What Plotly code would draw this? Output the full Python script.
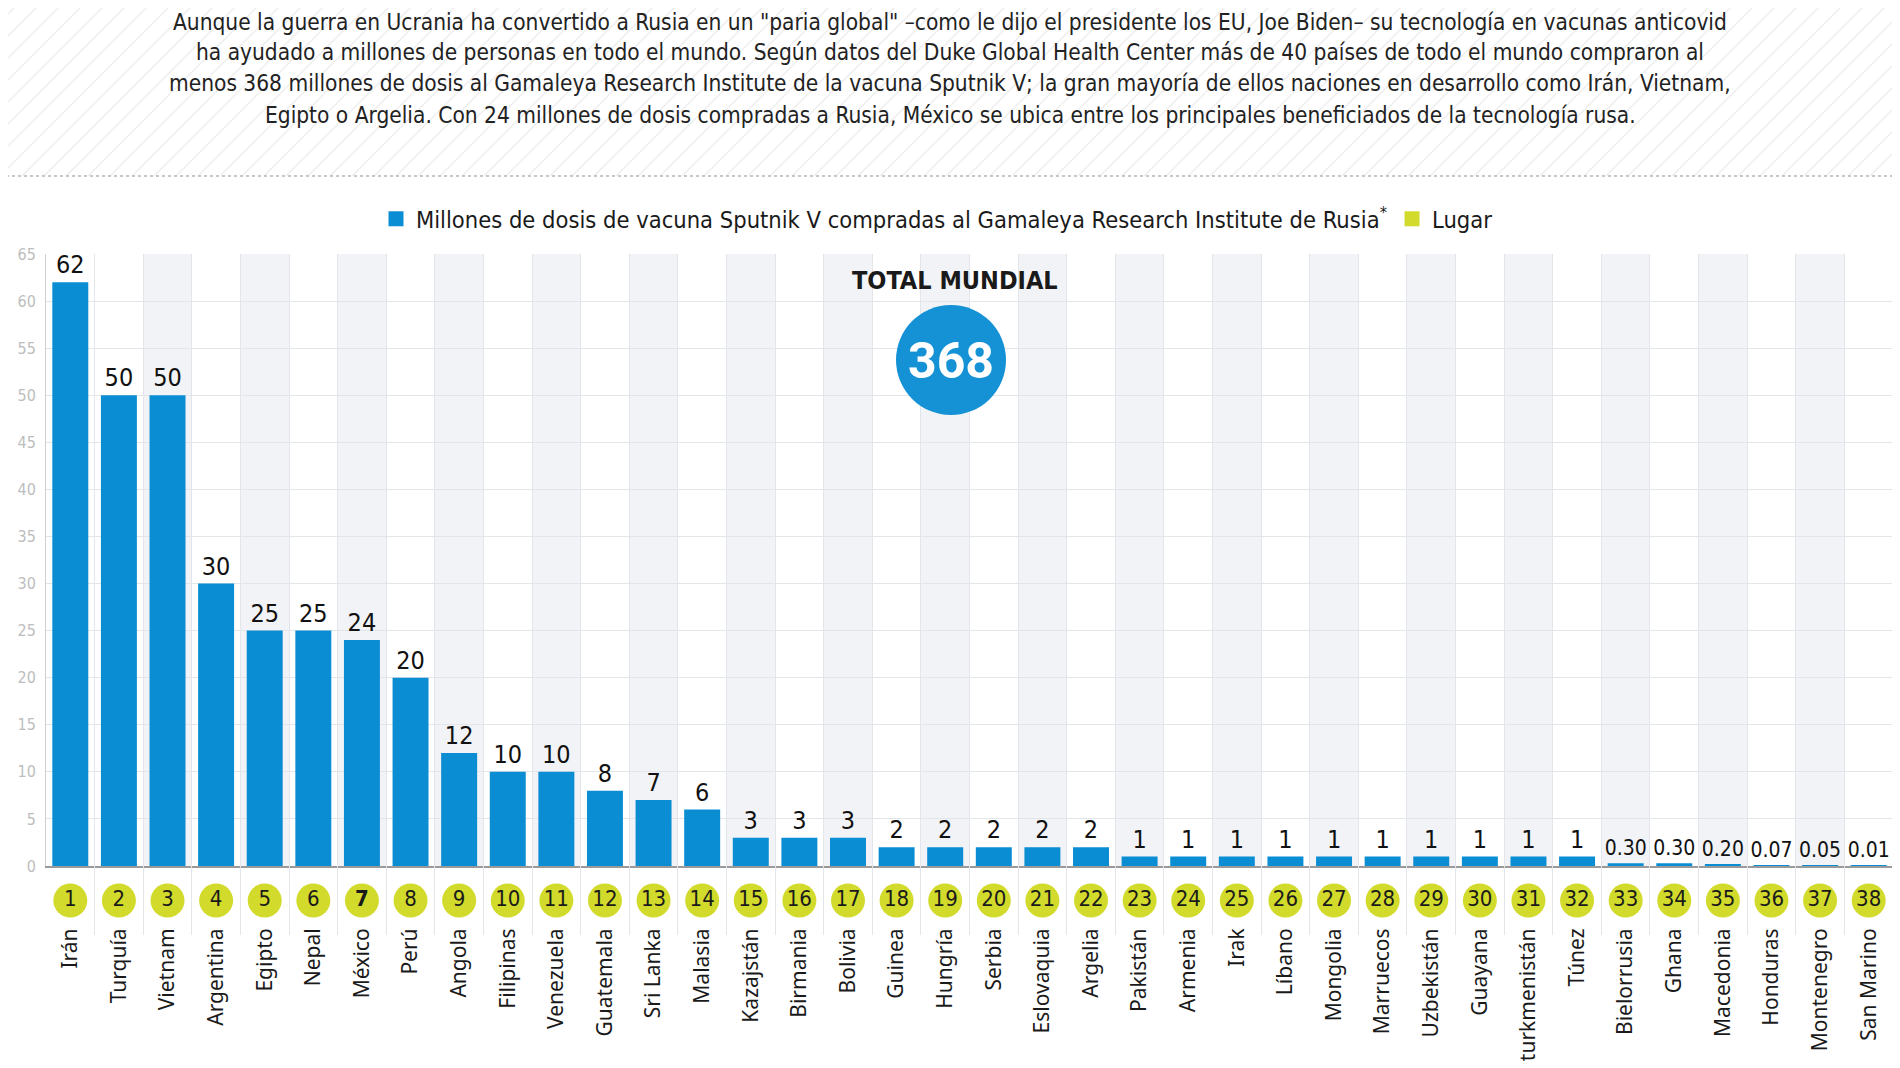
import plotly.graph_objects as go

# ---------------- data ----------------
paises = ["Irán", "Turquía", "Vietnam", "Argentina", "Egipto", "Nepal", "México", "Perú",
          "Angola", "Filipinas", "Venezuela", "Guatemala", "Sri Lanka", "Malasia",
          "Kazajstán", "Birmania", "Bolivia", "Guinea", "Hungría", "Serbia", "Eslovaquia",
          "Argelia", "Pakistán", "Armenia", "Irak", "Líbano", "Mongolia", "Marruecos",
          "Uzbekistán", "Guayana", "turkmenistán", "Túnez", "Bielorrusia", "Ghana",
          "Macedonia", "Honduras", "Montenegro", "San Marino"]
dosis = [62, 50, 50, 30, 25, 25, 24, 20, 12, 10, 10, 8, 7, 6, 3, 3, 3, 2, 2, 2, 2, 2,
         1, 1, 1, 1, 1, 1, 1, 1, 1, 1, 0.30, 0.30, 0.20, 0.07, 0.05, 0.01]
lugar = [1, 2, 3, 4, 5, 6, 7, 8, 9, 10, 11, 12, 13, 14, 15, 16, 17, 18, 19, 20, 21, 22,
         23, 24, 25, 26, 27, 28, 29, 30, 31, 32, 33, 34, 35, 36, 37, 38]
total_mundial = 368
y_ticks = [0, 5, 10, 15, 20, 25, 30, 35, 40, 45, 50, 55, 60, 65]

texto = [
    'Aunque la guerra en Ucrania ha convertido a Rusia en un "paria global" –como le dijo el presidente los EU, Joe Biden– su tecnología en vacunas anticovid',
    'ha ayudado a millones de personas en todo el mundo. Según datos del Duke Global Health Center más de 40 países de todo el mundo compraron al',
    'menos 368 millones de dosis al Gamaleya Research Institute de la vacuna Sputnik V; la gran mayoría de ellos naciones en desarrollo como Irán, Vietnam,',
    'Egipto o Argelia. Con 24 millones de dosis compradas a Rusia, México se ubica entre los principales beneficiados de la tecnología rusa.',
]
serie_nombre = "Millones de dosis de vacuna Sputnik V compradas al Gamaleya Research Institute de Rusia<sup>*</sup>"
lugar_nombre = "Lugar"

# ---------------- style / geometry ----------------
OFF = 8                      # page body margin
PAGE_W, PAGE_H = 1900, 1068
W, H = PAGE_W - OFF, PAGE_H - OFF
PLOT_L, PLOT_R, PLOT_T, PLOT_B = 46, 1893, 254, 935   # page pixels
ZERO_PX = 866
ML = PLOT_L - OFF
MR = PAGE_W - PLOT_R
MT = PLOT_T - OFF
MB = PAGE_H - PLOT_B
PW, PH = PLOT_R - PLOT_L, PLOT_B - PLOT_T
main_lo = (PLOT_B - ZERO_PX) / PH

NARROW = "Liberation Sans Narrow, DejaVu Sans Condensed, Arial Narrow, sans-serif"
LABELF = "Noto Sans, Open Sans, sans-serif"
BLUE = "#0a8dd3"
LIME = "#d2db2c"
BAND = "#f1f3f6"
GRID = "#e2e5e9"


def px_x(px):
    return (px - PLOT_L) / PW


def px_y(py):
    return (PLOT_B - py) / PH


etiquetas = [f"{v:.2f}" if v < 1 else f"{v:g}" for v in dosis]
etiq_size = [21 if v < 1 else 25 for v in dosis]
lugar_txt = [f"<b>{n}</b>" if p == "México" else str(n) for n, p in zip(lugar, paises)]

fig = go.Figure()

fig.add_trace(go.Bar(
    x=paises, y=dosis, name=serie_nombre, marker=dict(color=BLUE, line=dict(width=0)),
    text=etiquetas, textposition="outside", constraintext="none", cliponaxis=False,
    textfont=dict(family=NARROW, size=etiq_size, color="#111111"), hoverinfo="x+y",
    showlegend=False,
))
fig.add_trace(go.Scatter(
    x=paises, y=[0.5] * len(paises), yaxis="y2", mode="markers+text", name=lugar_nombre,
    marker=dict(size=34, color=LIME, line=dict(width=0)),
    text=lugar_txt, textposition="middle center",
    textfont=dict(family=NARROW, size=22, color="#1a1a1a"),
    showlegend=False, cliponaxis=False, hoverinfo="skip",
))
# legend entries (square keys)
for nm, col in [(serie_nombre, BLUE), (lugar_nombre, LIME)]:
    fig.add_trace(go.Scatter(x=[None], y=[None], mode="markers", name=nm,
                             marker=dict(symbol="square", size=15, color=col),
                             showlegend=True))

shapes = []
# alternating bands
for i in range(2, len(paises), 2):
    shapes.append(dict(type="rect", xref="x", yref="y domain", x0=i - 0.5, x1=i + 0.5,
                       y0=0, y1=1, fillcolor=BAND, line=dict(width=0), layer="below"))

# hatched header background
segs = []
step = 22
hh = 176
k = -12
while k * step < PAGE_W + 20:
    xb = k * step
    segs.append(f"M{px_x(xb):.5f},{px_y(hh):.5f}L{px_x(xb + hh):.5f},{px_y(0):.5f}")
    k += 1
shapes.append(dict(type="path", xref="paper", yref="paper", path="".join(segs),
                   line=dict(color="#eeeeee", width=1.5), layer="below"))
# dotted separator
shapes.append(dict(type="line", xref="paper", yref="paper", x0=px_x(0), x1=px_x(PAGE_W),
                   y0=px_y(176), y1=px_y(176),
                   line=dict(color="#b5b5b5", width=1.5, dash="dot")))
# total circle
shapes.append(dict(type="circle", xref="paper", yref="paper", xsizemode="pixel",
                   ysizemode="pixel", xanchor=px_x(951), yanchor=px_y(360),
                   x0=-55, x1=55, y0=-55, y1=55, fillcolor="#1592d6", line=dict(width=0)))

annotations = []
line_y = [22, 52, 83, 115]
for t, yy in zip(texto, line_y):
    annotations.append(dict(text=t, xref="paper", yref="paper", x=px_x(950), y=px_y(yy),
                            xanchor="center", yanchor="middle", showarrow=False,
                            font=dict(family=NARROW, size=22.5, color="#222222")))
annotations.append(dict(text="<b>TOTAL MUNDIAL</b>", xref="paper", yref="paper",
                        x=px_x(955), y=px_y(280), xanchor="center", yanchor="middle",
                        showarrow=False, font=dict(family=NARROW, size=25, color="#1a1a1a")))
annotations.append(dict(text=f"<b>{total_mundial}</b>", xref="paper", yref="paper",
                        x=px_x(951), y=px_y(361), xanchor="center", yanchor="middle",
                        showarrow=False, font=dict(family="Roboto, sans-serif", size=50,
                                                   color="white")))

fig.update_layout(
    width=W, height=H,
    margin=dict(l=ML, r=MR, t=MT, b=MB),
    paper_bgcolor="white", plot_bgcolor="white",
    barmode="overlay", bargap=0.26,
    shapes=shapes, annotations=annotations,
    legend=dict(orientation="h", x=px_x(937), xanchor="center", xref="paper",
                y=px_y(219), yanchor="middle",
                font=dict(family=NARROW, size=23.5, color="#1a1a1a"),
                itemsizing="trace", bgcolor="rgba(0,0,0,0)"),
    xaxis=dict(type="category", range=[-0.5, len(paises) - 0.5], tickson="boundaries",
               showgrid=True, gridcolor=GRID, gridwidth=1, ticks="", tickangle=-90,
               ticklabelstandoff=52, showline=True, linecolor="#9a9a9a", linewidth=2,
               tickfont=dict(family=LABELF, size=21, color="#1a1a1a"),
               anchor="y", fixedrange=True),
    yaxis=dict(domain=[main_lo, 1], range=[0, 65], tickvals=y_ticks, showgrid=True,
               gridcolor=GRID, gridwidth=1, zeroline=False, showline=True,
               linecolor="#d0d0d0", linewidth=1, ticks="", ticklabelstandoff=6,
               tickfont=dict(family=NARROW, size=16, color="#bdbdbd"), fixedrange=True),
    yaxis2=dict(domain=[0, main_lo], range=[0, 1], showgrid=False, zeroline=False,
                showticklabels=False, showline=False, anchor="x", fixedrange=True),
    showlegend=True,
)

fig.write_html("out.html")
